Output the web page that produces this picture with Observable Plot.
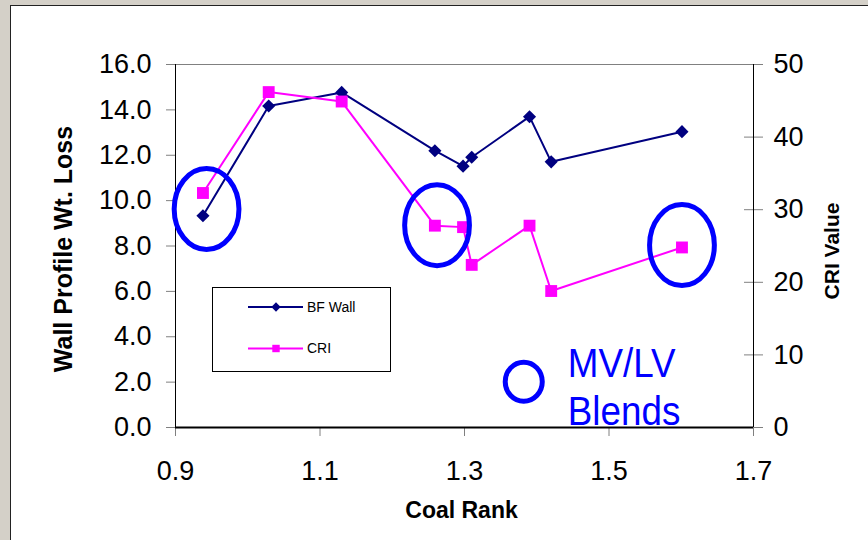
<!DOCTYPE html>
<html><head><meta charset="utf-8">
<script src="https://cdn.jsdelivr.net/npm/d3@7"></script>
<script src="https://cdn.jsdelivr.net/npm/@observablehq/plot@0.6"></script>
<style>
html,body{margin:0;padding:0;width:868px;height:540px;overflow:hidden;background:#d4d0c8;}
#panel{position:absolute;left:10px;top:5px;width:870px;height:550px;background:#fff;border-left:1px solid #222;border-top:1px solid #222;}
#chart{position:absolute;left:0;top:0;}
#legend{position:absolute;left:212px;top:287px;}
</style></head><body>
<div id="panel"></div><div id="chart"></div><div id="legend"></div>
<script>
// ---- data ----
const coalRank = [0.938, 1.029, 1.130, 1.259, 1.298, 1.310, 1.390, 1.420, 1.601];
const bfWall   = [9.33, 14.17, 14.77, 12.2, 11.52, 11.91, 13.70, 11.71, 13.04];
const cri      = [32.3, 46.2, 44.9, 27.8, 27.6, 22.4, 27.8, 18.8, 24.8];
const xTicks = [0.9, 1.1, 1.3, 1.5, 1.7];
const yLeftTicks = [0, 2, 4, 6, 8, 10, 12, 14, 16];
const yRightTicks = [0, 10, 20, 30, 40, 50];
const seriesNames = ["BF Wall", "CRI"];
// annotation (MV/LV blends circled), in data units
const blendRank = [0.943, 1.262, 1.601];
const blendWall = [9.63, 8.92, 8.04];
const keyRank = [1.382];
const keyWall = [2.02];
const noteRank = [1.443];
const noteWall = [3.72];
const noteText = ["MV/LV\nBlends"];

const k = 16 / 50; // CRI -> left axis units
const rows = coalRank.map((x, i) => ({x, wall: bfWall[i], cri: cri[i] * k}));
const blends = blendRank.map((x, i) => ({x, y: blendWall[i]}));
const key = keyRank.map((x, i) => ({x, y: keyWall[i]}));
const note = noteRank.map((x, i) => ({x, y: noteWall[i], t: noteText[i]}));

const ellipseSym = (ratio) => ({
  draw(ctx, size) {
    const ry = Math.sqrt(size / Math.PI), rx = ry * ratio, c = 0.5522847498;
    ctx.moveTo(rx, 0);
    ctx.bezierCurveTo(rx, c * ry, c * rx, ry, 0, ry);
    ctx.bezierCurveTo(-c * rx, ry, -rx, c * ry, -rx, 0);
    ctx.bezierCurveTo(-rx, -c * ry, -c * rx, -ry, 0, -ry);
    ctx.bezierCurveTo(c * rx, -ry, rx, -c * ry, rx, 0);
    ctx.closePath();
  }
});

// narrow the annotation text (Arial Narrow look)
const narrow = (index, scales, values, dims, context, next) => {
  const g = next(index, scales, values, dims, context);
  g.querySelectorAll("text").forEach(t => t.setAttribute("transform", (t.getAttribute("transform") || "") + " scale(0.92,1)"));
  return g;
};

const fmt1 = d3.format(".1f");
const chart = Plot.plot({
  width: 868, height: 540,
  marginLeft: 175, marginRight: 115, marginTop: 64, marginBottom: 113,
  x: {domain: [0.9, 1.7]},
  y: {domain: [0, 16]},
  style: {fontFamily: "'Liberation Sans', Arial, sans-serif", background: "transparent", color: "#000", overflow: "visible"},
  marks: [
    Plot.ruleY([16], {stroke: "#808080"}),
    Plot.axisY({ticks: yLeftTicks, tickSize: 9, tickPadding: 15, tickFormat: fmt1, fontSize: 27, stroke: "#808080", fill: "#000", label: null}),
    Plot.axisY({anchor: "right", ticks: yRightTicks.map(v => v * k), tickSize: 19, dx: -10, stroke: "#808080", fill: "none", label: null}),
    Plot.axisY({anchor: "right", ticks: yRightTicks.map(v => v * k), tickSize: 0, tickPadding: 20, tickFormat: d => Math.round(d / k), fontSize: 27, fill: "#000", label: null}),
    Plot.axisX({ticks: xTicks, tickSize: 9, tickPadding: 24, tickFormat: fmt1, fontSize: 27, stroke: "#808080", fill: "#000", label: null}),
    Plot.ruleX([0.9], {stroke: "#000"}),
    Plot.ruleX([1.7], {stroke: "#000"}),
    Plot.ruleY([0], {stroke: "#000", strokeWidth: 2}),
    Plot.line(rows, {x: "x", y: "wall", stroke: "#000080", strokeWidth: 2}),
    Plot.dot(rows, {x: "x", y: "wall", symbol: "diamond2", r: 5.9, fill: "#000080"}),
    Plot.line(rows, {x: "x", y: "cri", stroke: "#ff00ff", strokeWidth: 2}),
    Plot.dot(rows, {x: "x", y: "cri", symbol: "square", r: 6.7, fill: "#ff00ff"}),
    Plot.dot(blends, {x: "x", y: "y", r: 40.5, symbol: ellipseSym(0.8), stroke: "#0000ff", strokeWidth: 5, fill: "none"}),
    Plot.dot(key, {x: "x", y: "y", r: 19.5, symbol: ellipseSym(0.95), stroke: "#0000ff", strokeWidth: 5, fill: "none"}),
    Plot.text(note, {x: "x", y: "y", text: "t", textAnchor: "start", lineAnchor: "top", lineHeight: 1.2, fontSize: 40, fill: "#0000ff",
      fontFamily: "'Liberation Sans', Arial, sans-serif", render: narrow}),
    Plot.text(["Coal Rank"], {frameAnchor: "bottom", dx: -3, dy: 90, fontSize: 23, fontWeight: "bold"}),
    Plot.text(["Wall Profile Wt. Loss"], {frameAnchor: "left", textAnchor: "middle", rotate: -90, dx: -112, dy: 3, fontSize: 25, fontWeight: "bold"}),
    Plot.text(["CRI Value"], {frameAnchor: "right", textAnchor: "middle", rotate: -90, dx: 79, dy: 5, fontSize: 21, fontWeight: "bold"})
  ]
});
document.getElementById("chart").appendChild(chart);

// legend box
const colors = ["#000080", "#ff00ff"];
const symbols = [d3.symbolDiamond2, d3.symbolSquare];
const leg = d3.select("#legend").append("svg").attr("width", 180).attr("height", 86)
  .style("font-family", "'Liberation Sans', Arial, sans-serif");
leg.append("rect").attr("x", 0.5).attr("y", 0.5).attr("width", 178).attr("height", 84).attr("fill", "#fff").attr("stroke", "#000");
const item = leg.selectAll("g.item").data(seriesNames).join("g").attr("class", "item")
  .attr("transform", (d, i) => `translate(0,${20 + i * 41.5})`);
item.append("line").attr("x1", 36).attr("x2", 91).attr("stroke", (d, i) => colors[i]).attr("stroke-width", 2);
item.append("path").attr("transform", "translate(64,0)").attr("d", (d, i) => d3.symbol(symbols[i], 55)()).attr("fill", (d, i) => colors[i]);
item.append("text").attr("x", 95).attr("dy", "0.35em").attr("font-size", 14).text(d => d);
</script>
</body></html>
